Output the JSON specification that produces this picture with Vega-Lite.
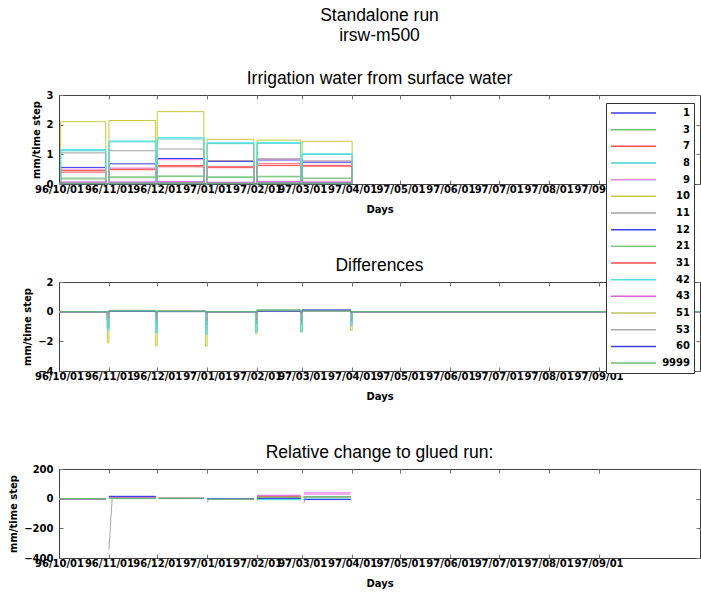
{
"$schema":"https://vega.github.io/schema/vega-lite/v6.json",
"padding":{"left":8,"top":6,"right":0,"bottom":0},
"bounds":"flush",
"spacing":98,
"title":{"text":["Standalone run","irsw-m500"],"fontSize":17.5,"fontWeight":"normal","lineHeight":20,"anchor":"middle","frame":"group","offset":25,"color":"black"},
"datasets":{
"irr":[
{"s":"1","d":"1996-10-01","v":0},{"s":"1","d":"1996-10-02","v":0.56},{"s":"1","d":"1996-10-30","v":0},{"s":"1","d":"1996-11-01","v":0.68},{"s":"1","d":"1996-11-30","v":0},{"s":"1","d":"1996-12-01","v":0.86},{"s":"1","d":"1996-12-30","v":0},{"s":"1","d":"1997-01-01","v":0.76},{"s":"1","d":"1997-01-30","v":0},{"s":"1","d":"1997-02-01","v":0.81},{"s":"1","d":"1997-02-28","v":0},{"s":"1","d":"1997-03-01","v":0.73},{"s":"1","d":"1997-04-01","v":0},
{"s":"3","d":"1996-10-01","v":0},{"s":"3","d":"1996-10-02","v":0.2},{"s":"3","d":"1996-10-30","v":0},{"s":"3","d":"1996-11-01","v":0.24},{"s":"3","d":"1996-11-30","v":0},{"s":"3","d":"1996-12-01","v":0.27},{"s":"3","d":"1996-12-30","v":0},{"s":"3","d":"1997-01-01","v":0.24},{"s":"3","d":"1997-01-30","v":0},{"s":"3","d":"1997-02-01","v":0.26},{"s":"3","d":"1997-02-28","v":0},{"s":"3","d":"1997-03-01","v":0.2},{"s":"3","d":"1997-04-01","v":0},
{"s":"7","d":"1996-10-01","v":0},{"s":"7","d":"1996-10-02","v":0.45},{"s":"7","d":"1996-10-30","v":0},{"s":"7","d":"1996-11-01","v":0.51},{"s":"7","d":"1996-11-30","v":0},{"s":"7","d":"1996-12-01","v":0.62},{"s":"7","d":"1996-12-30","v":0},{"s":"7","d":"1997-01-01","v":0.58},{"s":"7","d":"1997-01-30","v":0},{"s":"7","d":"1997-02-01","v":0.68},{"s":"7","d":"1997-02-28","v":0},{"s":"7","d":"1997-03-01","v":0.63},{"s":"7","d":"1997-04-01","v":0},
{"s":"8","d":"1996-10-01","v":0},{"s":"8","d":"1996-10-02","v":1.12},{"s":"8","d":"1996-10-30","v":0},{"s":"8","d":"1996-11-01","v":1.42},{"s":"8","d":"1996-11-30","v":0},{"s":"8","d":"1996-12-01","v":1.52},{"s":"8","d":"1996-12-30","v":0},{"s":"8","d":"1997-01-01","v":1.36},{"s":"8","d":"1997-01-30","v":0},{"s":"8","d":"1997-02-01","v":1.37},{"s":"8","d":"1997-02-28","v":0},{"s":"8","d":"1997-03-01","v":1.0},{"s":"8","d":"1997-04-01","v":0},
{"s":"9","d":"1996-10-01","v":0},{"s":"9","d":"1996-10-02","v":0.5},{"s":"9","d":"1996-10-30","v":0},{"s":"9","d":"1996-11-01","v":0.54},{"s":"9","d":"1996-11-30","v":0},{"s":"9","d":"1996-12-01","v":0.82},{"s":"9","d":"1996-12-30","v":0},{"s":"9","d":"1997-01-01","v":0.79},{"s":"9","d":"1997-01-30","v":0},{"s":"9","d":"1997-02-01","v":0.83},{"s":"9","d":"1997-02-28","v":0},{"s":"9","d":"1997-03-01","v":0.75},{"s":"9","d":"1997-04-01","v":0},
{"s":"10","d":"1996-10-01","v":0},{"s":"10","d":"1996-10-02","v":2.1},{"s":"10","d":"1996-10-30","v":0},{"s":"10","d":"1996-11-01","v":2.14},{"s":"10","d":"1996-11-30","v":0},{"s":"10","d":"1996-12-01","v":2.44},{"s":"10","d":"1996-12-30","v":0},{"s":"10","d":"1997-01-01","v":1.51},{"s":"10","d":"1997-01-30","v":0},{"s":"10","d":"1997-02-01","v":1.48},{"s":"10","d":"1997-02-28","v":0},{"s":"10","d":"1997-03-01","v":1.44},{"s":"10","d":"1997-04-01","v":0},
{"s":"11","d":"1996-10-01","v":0},{"s":"11","d":"1996-10-02","v":1.05},{"s":"11","d":"1996-10-30","v":0},{"s":"11","d":"1996-11-01","v":1.12},{"s":"11","d":"1996-11-30","v":0},{"s":"11","d":"1996-12-01","v":1.18},{"s":"11","d":"1996-12-30","v":0},{"s":"11","d":"1997-01-01","v":0.79},{"s":"11","d":"1997-01-30","v":0},{"s":"11","d":"1997-02-01","v":0.85},{"s":"11","d":"1997-02-28","v":0},{"s":"11","d":"1997-03-01","v":0.78},{"s":"11","d":"1997-04-01","v":0},
{"s":"12","d":"1996-10-01","v":0},{"s":"12","d":"1996-10-02","v":0.04},{"s":"12","d":"1996-10-30","v":0},{"s":"12","d":"1996-11-01","v":0.05},{"s":"12","d":"1996-11-30","v":0},{"s":"12","d":"1996-12-01","v":0.06},{"s":"12","d":"1996-12-30","v":0},{"s":"12","d":"1997-01-01","v":0.05},{"s":"12","d":"1997-01-30","v":0},{"s":"12","d":"1997-02-01","v":0.06},{"s":"12","d":"1997-02-28","v":0},{"s":"12","d":"1997-03-01","v":0.05},{"s":"12","d":"1997-04-01","v":0},
{"s":"21","d":"1996-10-01","v":0},{"s":"21","d":"1996-10-02","v":0.17},{"s":"21","d":"1996-10-30","v":0},{"s":"21","d":"1996-11-01","v":0.21},{"s":"21","d":"1996-11-30","v":0},{"s":"21","d":"1996-12-01","v":0.25},{"s":"21","d":"1996-12-30","v":0},{"s":"21","d":"1997-01-01","v":0.22},{"s":"21","d":"1997-01-30","v":0},{"s":"21","d":"1997-02-01","v":0.24},{"s":"21","d":"1997-02-28","v":0},{"s":"21","d":"1997-03-01","v":0.18},{"s":"21","d":"1997-04-01","v":0},
{"s":"31","d":"1996-10-01","v":0},{"s":"31","d":"1996-10-02","v":0.4},{"s":"31","d":"1996-10-30","v":0},{"s":"31","d":"1996-11-01","v":0.48},{"s":"31","d":"1996-11-30","v":0},{"s":"31","d":"1996-12-01","v":0.58},{"s":"31","d":"1996-12-30","v":0},{"s":"31","d":"1997-01-01","v":0.55},{"s":"31","d":"1997-01-30","v":0},{"s":"31","d":"1997-02-01","v":0.62},{"s":"31","d":"1997-02-28","v":0},{"s":"31","d":"1997-03-01","v":0.6},{"s":"31","d":"1997-04-01","v":0},
{"s":"42","d":"1996-10-01","v":0},{"s":"42","d":"1996-10-02","v":1.16},{"s":"42","d":"1996-10-30","v":0},{"s":"42","d":"1996-11-01","v":1.45},{"s":"42","d":"1996-11-30","v":0},{"s":"42","d":"1996-12-01","v":1.56},{"s":"42","d":"1996-12-30","v":0},{"s":"42","d":"1997-01-01","v":1.39},{"s":"42","d":"1997-01-30","v":0},{"s":"42","d":"1997-02-01","v":1.39},{"s":"42","d":"1997-02-28","v":0},{"s":"42","d":"1997-03-01","v":1.02},{"s":"42","d":"1997-04-01","v":0},
{"s":"43","d":"1996-10-01","v":0},{"s":"43","d":"1996-10-02","v":0.07},{"s":"43","d":"1996-10-30","v":0},{"s":"43","d":"1996-11-01","v":0.07},{"s":"43","d":"1996-11-30","v":0},{"s":"43","d":"1996-12-01","v":0.08},{"s":"43","d":"1996-12-30","v":0},{"s":"43","d":"1997-01-01","v":0.06},{"s":"43","d":"1997-01-30","v":0},{"s":"43","d":"1997-02-01","v":0.09},{"s":"43","d":"1997-02-28","v":0},{"s":"43","d":"1997-03-01","v":0.07},{"s":"43","d":"1997-04-01","v":0},
{"s":"51","d":"1996-10-01","v":0},{"s":"51","d":"1996-10-02","v":0.03},{"s":"51","d":"1996-10-30","v":0},{"s":"51","d":"1996-11-01","v":0.03},{"s":"51","d":"1996-11-30","v":0},{"s":"51","d":"1996-12-01","v":0.04},{"s":"51","d":"1996-12-30","v":0},{"s":"51","d":"1997-01-01","v":0.03},{"s":"51","d":"1997-01-30","v":0},{"s":"51","d":"1997-02-01","v":0.04},{"s":"51","d":"1997-02-28","v":0},{"s":"51","d":"1997-03-01","v":0.03},{"s":"51","d":"1997-04-01","v":0},
{"s":"53","d":"1996-10-01","v":0},{"s":"53","d":"1996-10-02","v":0.02},{"s":"53","d":"1996-10-30","v":0},{"s":"53","d":"1996-11-01","v":0.03},{"s":"53","d":"1996-11-30","v":0},{"s":"53","d":"1996-12-01","v":0.03},{"s":"53","d":"1996-12-30","v":0},{"s":"53","d":"1997-01-01","v":0.02},{"s":"53","d":"1997-01-30","v":0},{"s":"53","d":"1997-02-01","v":0.03},{"s":"53","d":"1997-02-28","v":0},{"s":"53","d":"1997-03-01","v":0.02},{"s":"53","d":"1997-04-01","v":0},
{"s":"60","d":"1996-10-01","v":0},{"s":"60","d":"1996-10-02","v":0.01},{"s":"60","d":"1996-10-30","v":0},{"s":"60","d":"1996-11-01","v":0.01},{"s":"60","d":"1996-11-30","v":0},{"s":"60","d":"1996-12-01","v":0.02},{"s":"60","d":"1996-12-30","v":0},{"s":"60","d":"1997-01-01","v":0.01},{"s":"60","d":"1997-01-30","v":0},{"s":"60","d":"1997-02-01","v":0.02},{"s":"60","d":"1997-02-28","v":0},{"s":"60","d":"1997-03-01","v":0.01},{"s":"60","d":"1997-04-01","v":0},
{"s":"9999","d":"1996-10-01","v":0},{"s":"9999","d":"1996-10-02","v":0.01},{"s":"9999","d":"1996-10-30","v":0},{"s":"9999","d":"1996-11-01","v":0.01},{"s":"9999","d":"1996-11-30","v":0},{"s":"9999","d":"1996-12-01","v":0.01},{"s":"9999","d":"1996-12-30","v":0},{"s":"9999","d":"1997-01-01","v":0.01},{"s":"9999","d":"1997-01-30","v":0},{"s":"9999","d":"1997-02-01","v":0.01},{"s":"9999","d":"1997-02-28","v":0},{"s":"9999","d":"1997-03-01","v":0.01},{"s":"9999","d":"1997-04-01","v":0}
],
"diff":[
{"s":"1","d":"1996-10-01","v":0},{"s":"1","d":"1996-10-31","v":-0.55},{"s":"1","d":"1996-11-01","v":0.04},{"s":"1","d":"1996-11-30","v":-0.66},{"s":"1","d":"1996-12-01","v":0.02},{"s":"1","d":"1996-12-31","v":-0.84},{"s":"1","d":"1997-01-01","v":0},{"s":"1","d":"1997-01-31","v":-0.74},{"s":"1","d":"1997-02-01","v":0.05},{"s":"1","d":"1997-02-28","v":-0.78},{"s":"1","d":"1997-03-01","v":0.1},{"s":"1","d":"1997-03-31","v":-0.65},{"s":"1","d":"1997-04-01","v":0},{"s":"1","d":"1997-11-03","v":0},
{"s":"3","d":"1996-10-01","v":0},{"s":"3","d":"1996-10-31","v":-0.2},{"s":"3","d":"1996-11-01","v":0.02},{"s":"3","d":"1996-11-30","v":-0.23},{"s":"3","d":"1996-12-01","v":0.01},{"s":"3","d":"1996-12-31","v":-0.26},{"s":"3","d":"1997-01-01","v":0},{"s":"3","d":"1997-01-31","v":-0.23},{"s":"3","d":"1997-02-01","v":0.03},{"s":"3","d":"1997-02-28","v":-0.25},{"s":"3","d":"1997-03-01","v":0.02},{"s":"3","d":"1997-03-31","v":-0.18},{"s":"3","d":"1997-04-01","v":0},{"s":"3","d":"1997-11-03","v":0},
{"s":"7","d":"1996-10-01","v":0},{"s":"7","d":"1996-10-31","v":-0.44},{"s":"7","d":"1996-11-01","v":0.03},{"s":"7","d":"1996-11-30","v":-0.5},{"s":"7","d":"1996-12-01","v":0.02},{"s":"7","d":"1996-12-31","v":-0.6},{"s":"7","d":"1997-01-01","v":0},{"s":"7","d":"1997-01-31","v":-0.56},{"s":"7","d":"1997-02-01","v":0.08},{"s":"7","d":"1997-02-28","v":-0.65},{"s":"7","d":"1997-03-01","v":0.05},{"s":"7","d":"1997-03-31","v":-0.56},{"s":"7","d":"1997-04-01","v":0},{"s":"7","d":"1997-11-03","v":0},
{"s":"8","d":"1996-10-01","v":0},{"s":"8","d":"1996-10-31","v":-1.1},{"s":"8","d":"1996-11-01","v":0.06},{"s":"8","d":"1996-11-30","v":-1.38},{"s":"8","d":"1996-12-01","v":0.04},{"s":"8","d":"1996-12-31","v":-1.48},{"s":"8","d":"1997-01-01","v":0},{"s":"8","d":"1997-01-31","v":-1.32},{"s":"8","d":"1997-02-01","v":0.1},{"s":"8","d":"1997-02-28","v":-1.3},{"s":"8","d":"1997-03-01","v":0.06},{"s":"8","d":"1997-03-31","v":-0.9},{"s":"8","d":"1997-04-01","v":0},{"s":"8","d":"1997-11-03","v":0},
{"s":"9","d":"1996-10-01","v":0},{"s":"9","d":"1996-10-31","v":-0.49},{"s":"9","d":"1996-11-01","v":0.03},{"s":"9","d":"1996-11-30","v":-0.53},{"s":"9","d":"1996-12-01","v":0.03},{"s":"9","d":"1996-12-31","v":-0.8},{"s":"9","d":"1997-01-01","v":0},{"s":"9","d":"1997-01-31","v":-0.77},{"s":"9","d":"1997-02-01","v":0.07},{"s":"9","d":"1997-02-28","v":-0.79},{"s":"9","d":"1997-03-01","v":0.08},{"s":"9","d":"1997-03-31","v":-0.67},{"s":"9","d":"1997-04-01","v":0},{"s":"9","d":"1997-11-03","v":0},
{"s":"10","d":"1996-10-01","v":0},{"s":"10","d":"1996-10-31","v":-2.09},{"s":"10","d":"1996-11-01","v":0.09},{"s":"10","d":"1996-11-30","v":-2.3},{"s":"10","d":"1996-12-01","v":0.07},{"s":"10","d":"1996-12-31","v":-2.34},{"s":"10","d":"1997-01-01","v":0},{"s":"10","d":"1997-01-31","v":-1.48},{"s":"10","d":"1997-02-01","v":0.14},{"s":"10","d":"1997-02-28","v":-1.38},{"s":"10","d":"1997-03-01","v":0.09},{"s":"10","d":"1997-03-31","v":-1.25},{"s":"10","d":"1997-04-01","v":0},{"s":"10","d":"1997-11-03","v":0},
{"s":"11","d":"1996-10-01","v":0},{"s":"11","d":"1996-10-31","v":-1.05},{"s":"11","d":"1996-11-01","v":0.05},{"s":"11","d":"1996-11-30","v":-1.1},{"s":"11","d":"1996-12-01","v":0.04},{"s":"11","d":"1996-12-31","v":-1.15},{"s":"11","d":"1997-01-01","v":0},{"s":"11","d":"1997-01-31","v":-0.77},{"s":"11","d":"1997-02-01","v":0.12},{"s":"11","d":"1997-02-28","v":-0.82},{"s":"11","d":"1997-03-01","v":0.07},{"s":"11","d":"1997-03-31","v":-0.7},{"s":"11","d":"1997-04-01","v":0},{"s":"11","d":"1997-11-03","v":0},
{"s":"12","d":"1996-10-01","v":0},{"s":"12","d":"1996-10-31","v":-0.04},{"s":"12","d":"1996-11-01","v":0.03},{"s":"12","d":"1996-11-30","v":-0.05},{"s":"12","d":"1996-12-01","v":0.01},{"s":"12","d":"1996-12-31","v":-0.06},{"s":"12","d":"1997-01-01","v":0},{"s":"12","d":"1997-01-31","v":-0.05},{"s":"12","d":"1997-02-01","v":0.02},{"s":"12","d":"1997-02-28","v":-0.06},{"s":"12","d":"1997-03-01","v":0.1},{"s":"12","d":"1997-03-31","v":-0.05},{"s":"12","d":"1997-04-01","v":0},{"s":"12","d":"1997-11-03","v":0},
{"s":"21","d":"1996-10-01","v":0},{"s":"21","d":"1996-10-31","v":-0.17},{"s":"21","d":"1996-11-01","v":0.01},{"s":"21","d":"1996-11-30","v":-0.2},{"s":"21","d":"1996-12-01","v":0.01},{"s":"21","d":"1996-12-31","v":-0.24},{"s":"21","d":"1997-01-01","v":0},{"s":"21","d":"1997-01-31","v":-0.21},{"s":"21","d":"1997-02-01","v":0.02},{"s":"21","d":"1997-02-28","v":-0.23},{"s":"21","d":"1997-03-01","v":0.02},{"s":"21","d":"1997-03-31","v":-0.16},{"s":"21","d":"1997-04-01","v":0},{"s":"21","d":"1997-11-03","v":0},
{"s":"31","d":"1996-10-01","v":0},{"s":"31","d":"1996-10-31","v":-0.4},{"s":"31","d":"1996-11-01","v":0.03},{"s":"31","d":"1996-11-30","v":-0.47},{"s":"31","d":"1996-12-01","v":0.02},{"s":"31","d":"1996-12-31","v":-0.56},{"s":"31","d":"1997-01-01","v":0},{"s":"31","d":"1997-01-31","v":-0.53},{"s":"31","d":"1997-02-01","v":0.07},{"s":"31","d":"1997-02-28","v":-0.6},{"s":"31","d":"1997-03-01","v":0.05},{"s":"31","d":"1997-03-31","v":-0.54},{"s":"31","d":"1997-04-01","v":0},{"s":"31","d":"1997-11-03","v":0},
{"s":"42","d":"1996-10-01","v":0},{"s":"42","d":"1996-10-31","v":-1.25},{"s":"42","d":"1996-11-01","v":0.06},{"s":"42","d":"1996-11-30","v":-1.42},{"s":"42","d":"1996-12-01","v":0.04},{"s":"42","d":"1996-12-31","v":-1.52},{"s":"42","d":"1997-01-01","v":0},{"s":"42","d":"1997-01-31","v":-1.36},{"s":"42","d":"1997-02-01","v":0.1},{"s":"42","d":"1997-02-28","v":-1.33},{"s":"42","d":"1997-03-01","v":0.06},{"s":"42","d":"1997-03-31","v":-0.92},{"s":"42","d":"1997-04-01","v":0},{"s":"42","d":"1997-11-03","v":0},
{"s":"43","d":"1996-10-01","v":0},{"s":"43","d":"1996-10-31","v":-0.07},{"s":"43","d":"1996-11-01","v":0.02},{"s":"43","d":"1996-11-30","v":-0.07},{"s":"43","d":"1996-12-01","v":0.01},{"s":"43","d":"1996-12-31","v":-0.08},{"s":"43","d":"1997-01-01","v":0},{"s":"43","d":"1997-01-31","v":-0.06},{"s":"43","d":"1997-02-01","v":0.03},{"s":"43","d":"1997-02-28","v":-0.09},{"s":"43","d":"1997-03-01","v":0.04},{"s":"43","d":"1997-03-31","v":-0.07},{"s":"43","d":"1997-04-01","v":0},{"s":"43","d":"1997-11-03","v":0},
{"s":"51","d":"1996-10-01","v":0},{"s":"51","d":"1996-10-31","v":-0.03},{"s":"51","d":"1996-11-01","v":0.01},{"s":"51","d":"1996-11-30","v":-0.03},{"s":"51","d":"1996-12-01","v":0.01},{"s":"51","d":"1996-12-31","v":-0.04},{"s":"51","d":"1997-01-01","v":0},{"s":"51","d":"1997-01-31","v":-0.03},{"s":"51","d":"1997-02-01","v":0.01},{"s":"51","d":"1997-02-28","v":-0.04},{"s":"51","d":"1997-03-01","v":0.02},{"s":"51","d":"1997-03-31","v":-0.03},{"s":"51","d":"1997-04-01","v":0},{"s":"51","d":"1997-11-03","v":0},
{"s":"53","d":"1996-10-01","v":0},{"s":"53","d":"1996-10-31","v":-0.02},{"s":"53","d":"1996-11-01","v":0.01},{"s":"53","d":"1996-11-30","v":-0.03},{"s":"53","d":"1996-12-01","v":0},{"s":"53","d":"1996-12-31","v":-0.03},{"s":"53","d":"1997-01-01","v":0},{"s":"53","d":"1997-01-31","v":-0.02},{"s":"53","d":"1997-02-01","v":0.01},{"s":"53","d":"1997-02-28","v":-0.03},{"s":"53","d":"1997-03-01","v":0.01},{"s":"53","d":"1997-03-31","v":-0.02},{"s":"53","d":"1997-04-01","v":0},{"s":"53","d":"1997-11-03","v":0},
{"s":"60","d":"1996-10-01","v":0},{"s":"60","d":"1996-10-31","v":-0.01},{"s":"60","d":"1996-11-01","v":0.02},{"s":"60","d":"1996-11-30","v":-0.01},{"s":"60","d":"1996-12-01","v":0.01},{"s":"60","d":"1996-12-31","v":-0.02},{"s":"60","d":"1997-01-01","v":0},{"s":"60","d":"1997-01-31","v":-0.01},{"s":"60","d":"1997-02-01","v":0.02},{"s":"60","d":"1997-02-28","v":-0.02},{"s":"60","d":"1997-03-01","v":0.09},{"s":"60","d":"1997-03-31","v":-0.01},{"s":"60","d":"1997-04-01","v":0},{"s":"60","d":"1997-11-03","v":0},
{"s":"9999","d":"1996-10-01","v":0},{"s":"9999","d":"1996-10-31","v":-0.01},{"s":"9999","d":"1996-11-01","v":0.04},{"s":"9999","d":"1996-11-30","v":-0.01},{"s":"9999","d":"1996-12-01","v":0.03},{"s":"9999","d":"1996-12-31","v":-0.01},{"s":"9999","d":"1997-01-01","v":0},{"s":"9999","d":"1997-01-31","v":-0.01},{"s":"9999","d":"1997-02-01","v":0.06},{"s":"9999","d":"1997-02-28","v":-0.01},{"s":"9999","d":"1997-03-01","v":0.05},{"s":"9999","d":"1997-03-31","v":-0.01},{"s":"9999","d":"1997-04-01","v":0},{"s":"9999","d":"1997-11-03","v":0}
],
"rel":[
{"s":"1","d":"1996-10-01","v":0},{"s":"1","d":"1996-10-30","v":0},{"s":"1","d":"1996-10-31","v":null},{"s":"1","d":"1996-11-01","v":16},{"s":"1","d":"1996-11-30","v":16},{"s":"1","d":"1996-12-01","v":null},{"s":"1","d":"1996-12-02","v":2},{"s":"1","d":"1996-12-30","v":2},{"s":"1","d":"1996-12-31","v":null},{"s":"1","d":"1997-01-01","v":0},{"s":"1","d":"1997-01-30","v":0},{"s":"1","d":"1997-01-31","v":null},{"s":"1","d":"1997-02-01","v":6},{"s":"1","d":"1997-02-28","v":6},{"s":"1","d":"1997-03-01","v":null},{"s":"1","d":"1997-03-02","v":14},{"s":"1","d":"1997-03-31","v":14},
{"s":"3","d":"1996-10-01","v":0},{"s":"3","d":"1996-10-30","v":0},{"s":"3","d":"1996-10-31","v":null},{"s":"3","d":"1996-11-01","v":4},{"s":"3","d":"1996-11-30","v":4},{"s":"3","d":"1996-12-01","v":null},{"s":"3","d":"1996-12-02","v":2},{"s":"3","d":"1996-12-30","v":2},{"s":"3","d":"1996-12-31","v":null},{"s":"3","d":"1997-01-01","v":0},{"s":"3","d":"1997-01-30","v":0},{"s":"3","d":"1997-01-31","v":null},{"s":"3","d":"1997-02-01","v":5},{"s":"3","d":"1997-02-28","v":5},{"s":"3","d":"1997-03-01","v":null},{"s":"3","d":"1997-03-02","v":14},{"s":"3","d":"1997-03-31","v":14},
{"s":"7","d":"1996-10-01","v":0},{"s":"7","d":"1996-10-30","v":0},{"s":"7","d":"1996-10-31","v":null},{"s":"7","d":"1996-11-01","v":6},{"s":"7","d":"1996-11-30","v":6},{"s":"7","d":"1996-12-01","v":null},{"s":"7","d":"1996-12-02","v":1},{"s":"7","d":"1996-12-30","v":1},{"s":"7","d":"1996-12-31","v":null},{"s":"7","d":"1997-01-01","v":0},{"s":"7","d":"1997-01-30","v":0},{"s":"7","d":"1997-01-31","v":null},{"s":"7","d":"1997-02-01","v":14},{"s":"7","d":"1997-02-28","v":14},{"s":"7","d":"1997-03-01","v":null},{"s":"7","d":"1997-03-02","v":8},{"s":"7","d":"1997-03-31","v":8},
{"s":"8","d":"1996-10-01","v":0},{"s":"8","d":"1996-10-30","v":0},{"s":"8","d":"1996-10-31","v":null},{"s":"8","d":"1996-11-01","v":4},{"s":"8","d":"1996-11-30","v":4},{"s":"8","d":"1996-12-01","v":null},{"s":"8","d":"1996-12-02","v":1},{"s":"8","d":"1996-12-30","v":1},{"s":"8","d":"1996-12-31","v":null},{"s":"8","d":"1997-01-01","v":0},{"s":"8","d":"1997-01-30","v":0},{"s":"8","d":"1997-01-31","v":null},{"s":"8","d":"1997-02-01","v":-7},{"s":"8","d":"1997-02-28","v":-7},{"s":"8","d":"1997-03-01","v":null},{"s":"8","d":"1997-03-02","v":-4},{"s":"8","d":"1997-03-31","v":-4},
{"s":"9","d":"1996-10-01","v":0},{"s":"9","d":"1996-10-30","v":0},{"s":"9","d":"1996-10-31","v":null},{"s":"9","d":"1996-11-01","v":8},{"s":"9","d":"1996-11-30","v":8},{"s":"9","d":"1996-12-01","v":null},{"s":"9","d":"1996-12-02","v":2},{"s":"9","d":"1996-12-30","v":2},{"s":"9","d":"1996-12-31","v":null},{"s":"9","d":"1997-01-01","v":0},{"s":"9","d":"1997-01-30","v":0},{"s":"9","d":"1997-01-31","v":null},{"s":"9","d":"1997-02-01","v":18},{"s":"9","d":"1997-02-28","v":18},{"s":"9","d":"1997-03-01","v":null},{"s":"9","d":"1997-03-02","v":30},{"s":"9","d":"1997-03-31","v":30},
{"s":"10","d":"1996-10-01","v":0},{"s":"10","d":"1996-10-30","v":0},{"s":"10","d":"1996-10-31","v":null},{"s":"10","d":"1996-11-01","v":4},{"s":"10","d":"1996-11-30","v":4},{"s":"10","d":"1996-12-01","v":null},{"s":"10","d":"1996-12-02","v":3},{"s":"10","d":"1996-12-30","v":3},{"s":"10","d":"1996-12-31","v":null},{"s":"10","d":"1997-01-01","v":0},{"s":"10","d":"1997-01-30","v":0},{"s":"10","d":"1997-01-31","v":null},{"s":"10","d":"1997-02-01","v":10},{"s":"10","d":"1997-02-28","v":10},{"s":"10","d":"1997-03-01","v":null},{"s":"10","d":"1997-03-02","v":12},{"s":"10","d":"1997-03-31","v":12},
{"s":"11","d":"1996-10-01","v":0},{"s":"11","d":"1996-10-30","v":0},{"s":"11","d":"1996-10-31","v":null},{"s":"11","d":"1996-11-01","v":5},{"s":"11","d":"1996-11-30","v":5},{"s":"11","d":"1996-12-01","v":null},{"s":"11","d":"1996-12-02","v":3},{"s":"11","d":"1996-12-30","v":3},{"s":"11","d":"1996-12-31","v":null},{"s":"11","d":"1997-01-01","v":0},{"s":"11","d":"1997-01-30","v":0},{"s":"11","d":"1997-01-31","v":null},{"s":"11","d":"1997-02-01","v":12},{"s":"11","d":"1997-02-28","v":12},{"s":"11","d":"1997-03-01","v":null},{"s":"11","d":"1997-03-02","v":9},{"s":"11","d":"1997-03-31","v":9},
{"s":"12","d":"1996-10-01","v":0},{"s":"12","d":"1996-10-30","v":0},{"s":"12","d":"1996-10-31","v":null},{"s":"12","d":"1996-11-01","v":12},{"s":"12","d":"1996-11-30","v":12},{"s":"12","d":"1996-12-01","v":null},{"s":"12","d":"1996-12-02","v":1},{"s":"12","d":"1996-12-30","v":1},{"s":"12","d":"1996-12-31","v":null},{"s":"12","d":"1997-01-01","v":0},{"s":"12","d":"1997-01-30","v":0},{"s":"12","d":"1997-01-31","v":null},{"s":"12","d":"1997-02-01","v":3},{"s":"12","d":"1997-02-28","v":3},{"s":"12","d":"1997-03-01","v":null},{"s":"12","d":"1997-03-02","v":-5},{"s":"12","d":"1997-03-31","v":-5},
{"s":"21","d":"1996-10-01","v":0},{"s":"21","d":"1996-10-30","v":0},{"s":"21","d":"1996-10-31","v":null},{"s":"21","d":"1996-11-01","v":3},{"s":"21","d":"1996-11-30","v":3},{"s":"21","d":"1996-12-01","v":null},{"s":"21","d":"1996-12-02","v":2},{"s":"21","d":"1996-12-30","v":2},{"s":"21","d":"1996-12-31","v":null},{"s":"21","d":"1997-01-01","v":0},{"s":"21","d":"1997-01-30","v":0},{"s":"21","d":"1997-01-31","v":null},{"s":"21","d":"1997-02-01","v":4},{"s":"21","d":"1997-02-28","v":4},{"s":"21","d":"1997-03-01","v":null},{"s":"21","d":"1997-03-02","v":13},{"s":"21","d":"1997-03-31","v":13},
{"s":"31","d":"1996-10-01","v":0},{"s":"31","d":"1996-10-30","v":0},{"s":"31","d":"1996-10-31","v":null},{"s":"31","d":"1996-11-01","v":6},{"s":"31","d":"1996-11-30","v":6},{"s":"31","d":"1996-12-01","v":null},{"s":"31","d":"1996-12-02","v":2},{"s":"31","d":"1996-12-30","v":2},{"s":"31","d":"1996-12-31","v":null},{"s":"31","d":"1997-01-01","v":0},{"s":"31","d":"1997-01-30","v":0},{"s":"31","d":"1997-01-31","v":null},{"s":"31","d":"1997-02-01","v":12},{"s":"31","d":"1997-02-28","v":12},{"s":"31","d":"1997-03-01","v":null},{"s":"31","d":"1997-03-02","v":9},{"s":"31","d":"1997-03-31","v":9},
{"s":"42","d":"1996-10-01","v":0},{"s":"42","d":"1996-10-30","v":0},{"s":"42","d":"1996-10-31","v":null},{"s":"42","d":"1996-11-01","v":4},{"s":"42","d":"1996-11-30","v":4},{"s":"42","d":"1996-12-01","v":null},{"s":"42","d":"1996-12-02","v":2},{"s":"42","d":"1996-12-30","v":2},{"s":"42","d":"1996-12-31","v":null},{"s":"42","d":"1997-01-01","v":0},{"s":"42","d":"1997-01-30","v":0},{"s":"42","d":"1997-01-31","v":null},{"s":"42","d":"1997-02-01","v":-5},{"s":"42","d":"1997-02-28","v":-5},{"s":"42","d":"1997-03-01","v":null},{"s":"42","d":"1997-03-02","v":6},{"s":"42","d":"1997-03-31","v":6},
{"s":"43","d":"1996-10-01","v":0},{"s":"43","d":"1996-10-30","v":0},{"s":"43","d":"1996-10-31","v":null},{"s":"43","d":"1996-11-01","v":10},{"s":"43","d":"1996-11-30","v":10},{"s":"43","d":"1996-12-01","v":null},{"s":"43","d":"1996-12-02","v":2},{"s":"43","d":"1996-12-30","v":2},{"s":"43","d":"1996-12-31","v":null},{"s":"43","d":"1997-01-01","v":0},{"s":"43","d":"1997-01-30","v":0},{"s":"43","d":"1997-01-31","v":null},{"s":"43","d":"1997-02-01","v":23},{"s":"43","d":"1997-02-28","v":23},{"s":"43","d":"1997-03-01","v":null},{"s":"43","d":"1997-03-02","v":39},{"s":"43","d":"1997-03-31","v":39},
{"s":"51","d":"1996-10-01","v":0},{"s":"51","d":"1996-10-30","v":0},{"s":"51","d":"1996-10-31","v":null},{"s":"51","d":"1996-11-01","v":3},{"s":"51","d":"1996-11-30","v":3},{"s":"51","d":"1996-12-01","v":null},{"s":"51","d":"1996-12-02","v":2},{"s":"51","d":"1996-12-30","v":2},{"s":"51","d":"1996-12-31","v":null},{"s":"51","d":"1997-01-01","v":0},{"s":"51","d":"1997-01-30","v":0},{"s":"51","d":"1997-01-31","v":null},{"s":"51","d":"1997-02-01","v":8},{"s":"51","d":"1997-02-28","v":8},{"s":"51","d":"1997-03-01","v":null},{"s":"51","d":"1997-03-02","v":12},{"s":"51","d":"1997-03-31","v":12},
{"s":"53","d":"1996-10-01","v":0},{"s":"53","d":"1996-10-30","v":0},{"s":"53","d":"1996-10-31","v":null},{"s":"53","d":"1996-11-01","v":-345},{"s":"53","d":"1996-11-03","v":0},{"s":"53","d":"1996-11-30","v":0},{"s":"53","d":"1996-12-01","v":null},{"s":"53","d":"1996-12-02","v":2},{"s":"53","d":"1996-12-30","v":2},{"s":"53","d":"1996-12-31","v":null},{"s":"53","d":"1997-01-01","v":-27},{"s":"53","d":"1997-01-02","v":0},{"s":"53","d":"1997-01-30","v":0},{"s":"53","d":"1997-01-31","v":null},{"s":"53","d":"1997-02-01","v":7},{"s":"53","d":"1997-02-28","v":7},{"s":"53","d":"1997-03-01","v":null},{"s":"53","d":"1997-03-02","v":-30},{"s":"53","d":"1997-03-03","v":15},{"s":"53","d":"1997-03-31","v":15},
{"s":"60","d":"1996-10-01","v":0},{"s":"60","d":"1996-10-30","v":0},{"s":"60","d":"1996-10-31","v":null},{"s":"60","d":"1996-11-01","v":14},{"s":"60","d":"1996-11-30","v":14},{"s":"60","d":"1996-12-01","v":null},{"s":"60","d":"1996-12-02","v":1},{"s":"60","d":"1996-12-30","v":1},{"s":"60","d":"1996-12-31","v":null},{"s":"60","d":"1997-01-01","v":0},{"s":"60","d":"1997-01-30","v":0},{"s":"60","d":"1997-01-31","v":null},{"s":"60","d":"1997-02-01","v":2},{"s":"60","d":"1997-02-28","v":2},{"s":"60","d":"1997-03-01","v":null},{"s":"60","d":"1997-03-02","v":-5},{"s":"60","d":"1997-03-31","v":-5},
{"s":"9999","d":"1996-10-01","v":0},{"s":"9999","d":"1996-10-30","v":0},{"s":"9999","d":"1996-10-31","v":null},{"s":"9999","d":"1996-11-01","v":2},{"s":"9999","d":"1996-11-30","v":2},{"s":"9999","d":"1996-12-01","v":null},{"s":"9999","d":"1996-12-02","v":2},{"s":"9999","d":"1996-12-30","v":2},{"s":"9999","d":"1996-12-31","v":null},{"s":"9999","d":"1997-01-01","v":-2},{"s":"9999","d":"1997-01-30","v":-2},{"s":"9999","d":"1997-01-31","v":null},{"s":"9999","d":"1997-02-01","v":9},{"s":"9999","d":"1997-02-28","v":9},{"s":"9999","d":"1997-03-01","v":null},{"s":"9999","d":"1997-03-02","v":14},{"s":"9999","d":"1997-03-31","v":14}
]
},
"vconcat":[
{
"title":{"text":"Irrigation water from surface water"},
"width":641,"height":89,
"data":{"name":"irr"},
"layer":[
{"mark":{"type":"line","interpolate":"step-after","strokeWidth":1},
"encoding":{
"x":{"field":"d","type":"temporal","scale":{"type":"utc","domain":[{"year":1996,"month":10,"date":1,"utc":true},{"year":1997,"month":11,"date":3,"utc":true}]},"axis":{"title":"Days","format":"%y/%m/%d","values":[{"year":1996,"month":10,"date":1,"utc":true},{"year":1996,"month":11,"date":1,"utc":true},{"year":1996,"month":12,"date":1,"utc":true},{"year":1997,"month":1,"date":1,"utc":true},{"year":1997,"month":2,"date":1,"utc":true},{"year":1997,"month":3,"date":1,"utc":true},{"year":1997,"month":4,"date":1,"utc":true},{"year":1997,"month":5,"date":1,"utc":true},{"year":1997,"month":6,"date":1,"utc":true},{"year":1997,"month":7,"date":1,"utc":true},{"year":1997,"month":8,"date":1,"utc":true},{"year":1997,"month":9,"date":1,"utc":true}]}},
"y":{"field":"v","type":"quantitative","scale":{"domain":[0,3]},"axis":{"title":"mm/time step","values":[0,1,2,3]}},
"color":{"field":"s","type":"nominal","scale":{"domain":["1","3","7","8","9","10","11","12","21","31","42","43","51","53","60","9999"],"range":["#3c3cf0","#70c070","#ff4c4c","#48d0d0","#e088e0","#c8c83c","#a0a0a0","#3c3cf0","#80c880","#ff4c4c","#50e0e0","#e060e0","#c0c060","#a8a8a8","#3c3cf0","#70c070"]},"legend":{"title":null,"zindex":1}}
}},
{"mark":{"type":"line","opacity":0},
"encoding":{
"x":{"field":"d","type":"temporal","scale":{"type":"utc","domain":[{"year":1996,"month":10,"date":1,"utc":true},{"year":1997,"month":11,"date":3,"utc":true}]},"axis":{"orient":"top","labels":false,"title":null,"domain":false,"values":[{"year":1996,"month":10,"date":1,"utc":true},{"year":1996,"month":11,"date":1,"utc":true},{"year":1996,"month":12,"date":1,"utc":true},{"year":1997,"month":1,"date":1,"utc":true},{"year":1997,"month":2,"date":1,"utc":true},{"year":1997,"month":3,"date":1,"utc":true},{"year":1997,"month":4,"date":1,"utc":true},{"year":1997,"month":5,"date":1,"utc":true},{"year":1997,"month":6,"date":1,"utc":true},{"year":1997,"month":7,"date":1,"utc":true},{"year":1997,"month":8,"date":1,"utc":true},{"year":1997,"month":9,"date":1,"utc":true}]}},
"y":{"field":"v","type":"quantitative","scale":{"domain":[0,3]},"axis":{"orient":"right","labels":false,"title":null,"domain":false,"values":[0,1,2,3]}}
}}
],
"resolve":{"axis":{"x":"independent","y":"independent"}}
},
{
"title":{"text":"Differences"},
"width":641,"height":89,
"data":{"name":"diff"},
"layer":[
{"mark":{"type":"line","interpolate":"step-after","strokeWidth":1},
"encoding":{
"x":{"field":"d","type":"temporal","scale":{"type":"utc","domain":[{"year":1996,"month":10,"date":1,"utc":true},{"year":1997,"month":11,"date":3,"utc":true}]},"axis":{"title":"Days","format":"%y/%m/%d","values":[{"year":1996,"month":10,"date":1,"utc":true},{"year":1996,"month":11,"date":1,"utc":true},{"year":1996,"month":12,"date":1,"utc":true},{"year":1997,"month":1,"date":1,"utc":true},{"year":1997,"month":2,"date":1,"utc":true},{"year":1997,"month":3,"date":1,"utc":true},{"year":1997,"month":4,"date":1,"utc":true},{"year":1997,"month":5,"date":1,"utc":true},{"year":1997,"month":6,"date":1,"utc":true},{"year":1997,"month":7,"date":1,"utc":true},{"year":1997,"month":8,"date":1,"utc":true},{"year":1997,"month":9,"date":1,"utc":true}]}},
"y":{"field":"v","type":"quantitative","scale":{"domain":[-4,2]},"axis":{"title":"mm/time step","values":[-4,-2,0,2]}},
"color":{"field":"s","type":"nominal","scale":{"domain":["1","3","7","8","9","10","11","12","21","31","42","43","51","53","60","9999"],"range":["#3c3cf0","#70c070","#ff4c4c","#48d0d0","#e088e0","#c8c83c","#a0a0a0","#3c3cf0","#80c880","#ff4c4c","#50e0e0","#e060e0","#c0c060","#a8a8a8","#3c3cf0","#70c070"]},"legend":{"title":null,"zindex":1}}
}},
{"mark":{"type":"line","opacity":0},
"encoding":{
"x":{"field":"d","type":"temporal","scale":{"type":"utc","domain":[{"year":1996,"month":10,"date":1,"utc":true},{"year":1997,"month":11,"date":3,"utc":true}]},"axis":{"orient":"top","labels":false,"title":null,"domain":false,"values":[{"year":1996,"month":10,"date":1,"utc":true},{"year":1996,"month":11,"date":1,"utc":true},{"year":1996,"month":12,"date":1,"utc":true},{"year":1997,"month":1,"date":1,"utc":true},{"year":1997,"month":2,"date":1,"utc":true},{"year":1997,"month":3,"date":1,"utc":true},{"year":1997,"month":4,"date":1,"utc":true},{"year":1997,"month":5,"date":1,"utc":true},{"year":1997,"month":6,"date":1,"utc":true},{"year":1997,"month":7,"date":1,"utc":true},{"year":1997,"month":8,"date":1,"utc":true},{"year":1997,"month":9,"date":1,"utc":true}]}},
"y":{"field":"v","type":"quantitative","scale":{"domain":[-4,2]},"axis":{"orient":"right","labels":false,"title":null,"domain":false,"values":[-4,-2,0,2]}}
}}
],
"resolve":{"axis":{"x":"independent","y":"independent"}}
},
{
"title":{"text":"Relative change to glued run:"},
"width":641,"height":89,
"data":{"name":"rel"},
"layer":[
{"mark":{"type":"line","strokeWidth":1,"invalid":"break-paths-show-domains"},
"encoding":{
"x":{"field":"d","type":"temporal","scale":{"type":"utc","domain":[{"year":1996,"month":10,"date":1,"utc":true},{"year":1997,"month":11,"date":3,"utc":true}]},"axis":{"title":"Days","format":"%y/%m/%d","values":[{"year":1996,"month":10,"date":1,"utc":true},{"year":1996,"month":11,"date":1,"utc":true},{"year":1996,"month":12,"date":1,"utc":true},{"year":1997,"month":1,"date":1,"utc":true},{"year":1997,"month":2,"date":1,"utc":true},{"year":1997,"month":3,"date":1,"utc":true},{"year":1997,"month":4,"date":1,"utc":true},{"year":1997,"month":5,"date":1,"utc":true},{"year":1997,"month":6,"date":1,"utc":true},{"year":1997,"month":7,"date":1,"utc":true},{"year":1997,"month":8,"date":1,"utc":true},{"year":1997,"month":9,"date":1,"utc":true}]}},
"y":{"field":"v","type":"quantitative","scale":{"domain":[-400,200]},"axis":{"title":"mm/time step","values":[-400,-200,0,200]}},
"color":{"field":"s","type":"nominal","scale":{"domain":["1","3","7","8","9","10","11","12","21","31","42","43","51","53","60","9999"],"range":["#3c3cf0","#70c070","#ff4c4c","#48d0d0","#e088e0","#c8c83c","#a0a0a0","#3c3cf0","#80c880","#ff4c4c","#50e0e0","#e060e0","#c0c060","#a8a8a8","#3c3cf0","#70c070"]},"legend":{"title":null,"zindex":1}}
}},
{"mark":{"type":"line","opacity":0,"invalid":"break-paths-show-domains"},
"encoding":{
"x":{"field":"d","type":"temporal","scale":{"type":"utc","domain":[{"year":1996,"month":10,"date":1,"utc":true},{"year":1997,"month":11,"date":3,"utc":true}]},"axis":{"orient":"top","labels":false,"title":null,"domain":false,"values":[{"year":1996,"month":10,"date":1,"utc":true},{"year":1996,"month":11,"date":1,"utc":true},{"year":1996,"month":12,"date":1,"utc":true},{"year":1997,"month":1,"date":1,"utc":true},{"year":1997,"month":2,"date":1,"utc":true},{"year":1997,"month":3,"date":1,"utc":true},{"year":1997,"month":4,"date":1,"utc":true},{"year":1997,"month":5,"date":1,"utc":true},{"year":1997,"month":6,"date":1,"utc":true},{"year":1997,"month":7,"date":1,"utc":true},{"year":1997,"month":8,"date":1,"utc":true},{"year":1997,"month":9,"date":1,"utc":true}]}},
"y":{"field":"v","type":"quantitative","scale":{"domain":[-400,200]},"axis":{"orient":"right","labels":false,"title":null,"domain":false,"values":[-400,-200,0,200]}}
}}
],
"resolve":{"axis":{"x":"independent","y":"independent"}}
}
],
"config":{
"font":"Liberation Sans",
"background":"white",
"view":{"stroke":"#404040","strokeWidth":1},
"title":{"fontSize":17.5,"fontWeight":"normal","color":"black","anchor":"middle","offset":3,"font":"Liberation Sans"},
"axis":{"domainColor":"#404040","tickColor":"#707070","tickSize":-4,"labelColor":"black","labelFontSize":10,"labelFontWeight":"bold","titleFontSize":10,"titleFontWeight":"bold","titleColor":"black","grid":false,"labelFont":"DejaVu Sans","titleFont":"DejaVu Sans"},
"axisX":{"labelPadding":4,"titlePadding":10,"labelOverlap":false,"labelFlush":false,"labelBound":false},
"axisY":{"labelPadding":10,"titlePadding":5},
"legend":{"orient":"none","legendX":547,"legendY":8,"symbolType":"M-1,0H8","symbolSize":100,"symbolStrokeWidth":1.5,"labelAlign":"right","labelOffset":68,"labelFontSize":10,"labelFontWeight":"bold","labelColor":"black","labelFont":"DejaVu Sans","rowPadding":5.67,"padding":4,"strokeColor":"#333333","fillColor":"white","cornerRadius":0}
}
}
